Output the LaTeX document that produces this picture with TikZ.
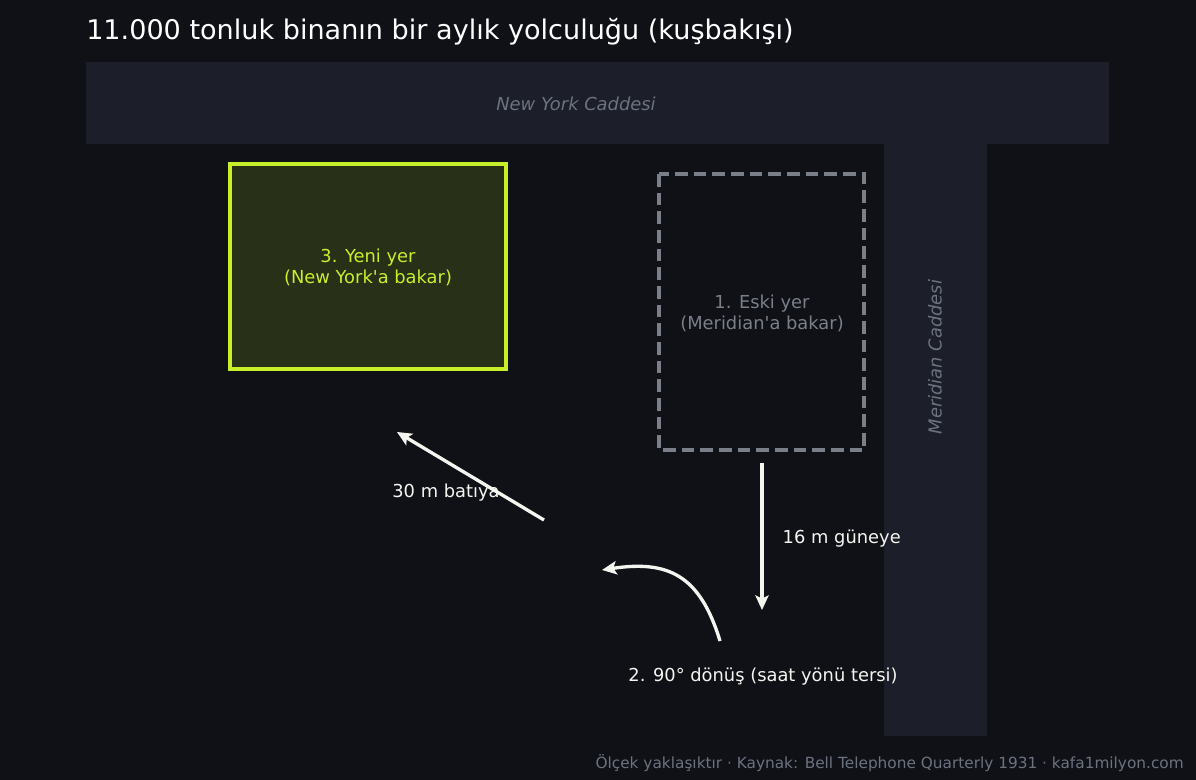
\documentclass[tikz,border=0pt]{standalone}
\usepackage{fontspec}
\setmainfont{DejaVu Sans}[Ligatures=TeXOff]
\usetikzlibrary{arrows.meta}
\definecolor{bg}{HTML}{0F1117}
\definecolor{road}{HTML}{1C1F29}
\definecolor{lime}{HTML}{C8F02A}
\definecolor{limefill}{HTML}{283018}
\definecolor{dashgray}{HTML}{7A7F8A}
\definecolor{txtgray}{HTML}{6B7280}
\definecolor{wht}{HTML}{F5F5F0}
\tikzset{
  streetlbl/.style={text=txtgray, font=\fontsize{13.4}{16}\selectfont\itshape},
  arrowline/.style={draw=wht, line width=2.5pt, -{Stealth[length=11pt,width=10pt,inset=2.5pt]}},
  lbl/.style={text=wht, font=\fontsize{13.4}{16}\selectfont},
}
\begin{document}
\begin{tikzpicture}[x=0.75pt,y=-0.75pt]
\useasboundingbox (0,0) rectangle (1196,780);
\fill[bg] (0,0) rectangle (1196,780);
% title
\node[anchor=base west, text=white, font=\fontsize{20.3}{24}\selectfont, inner sep=0] (title) at (86,40) {11.000 tonluk binanın bir aylık yolculuğu (kuşbakışı)};
% streets
\fill[road] (86,62) rectangle (1109,144);
\fill[road] (884,144) rectangle (987,736);
\node[streetlbl] (ny) at (576,104) {New York Caddesi};
\node[streetlbl, rotate=90] (mer) at (935,357) {Meridian Caddesi};
% new site
\draw[lime, fill=limefill, line width=3.5pt] (230,164) rectangle (506,369);
\node[text=lime, align=center, font=\fontsize{13.4}{15.8}\selectfont] (new) at (368,267) {3. Yeni yer\\(New York'a bakar)};
% old site
\draw[dashgray, line width=2.5pt, dash pattern=on 9.5pt off 4.5pt] (659,174) rectangle (864,450);
\node[text=dashgray, align=center, font=\fontsize{13.4}{15.8}\selectfont] (old) at (762,313) {1. Eski yer\\(Meridian'a bakar)};
% arrows
\coordinate (s1) at (762,463);
\coordinate (e1) at (762,610);
\draw[arrowline] (s1) -- (e1);
\node[lbl, anchor=west] (l1) at (778,539) {16 m güneye};
\coordinate (s2) at (720,641);
\coordinate (e2) at (602,570);
\draw[arrowline] (s2) .. controls (700,575) and (668,560) .. (e2);
\node[lbl] (l2) at (763,677) {2. 90° dönüş (saat yönü tersi)};
\coordinate (s3) at (544,520);
\coordinate (e3) at (397,432);
\draw[arrowline] (s3) -- (e3);
\node[lbl] (l3) at (446,493) {30 m batıya};
% footer
\node[anchor=base east, text=txtgray, font=\fontsize{11.5}{14}\selectfont, inner sep=0] (foot) at (1184,768) {Ölçek yaklaşıktır · Kaynak: Bell Telephone Quarterly 1931 · kafa1milyon.com};
\end{tikzpicture}
\end{document}
